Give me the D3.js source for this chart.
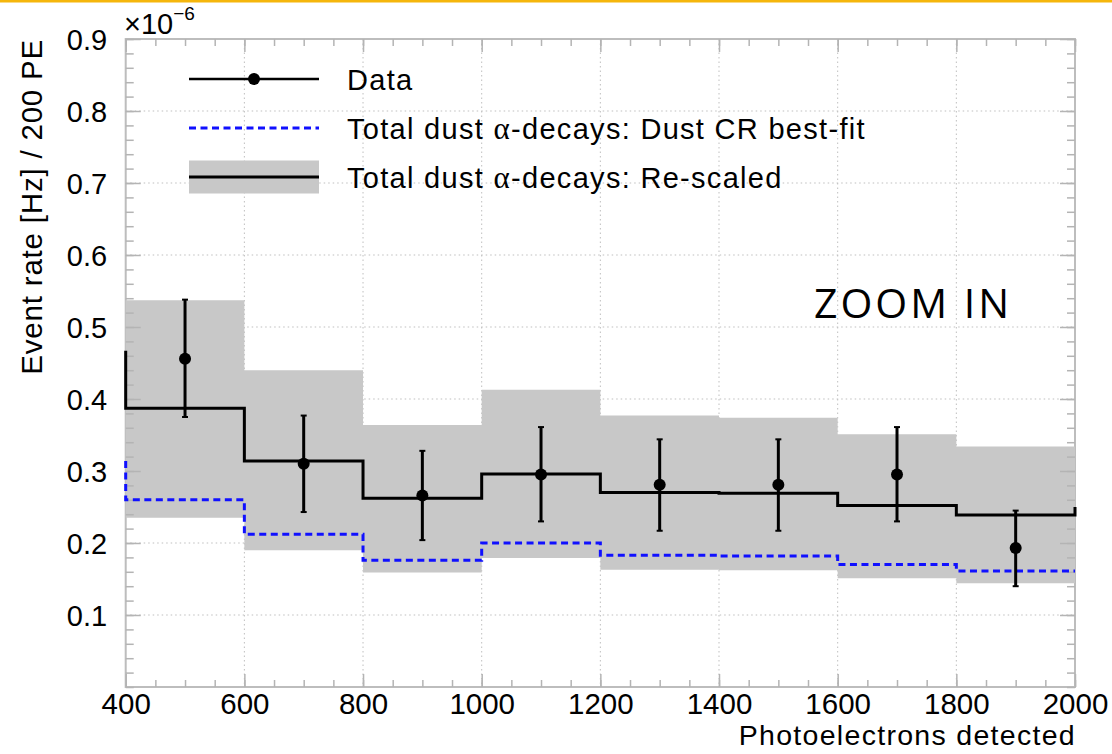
<!DOCTYPE html>
<html>
<head>
<meta charset="utf-8">
<script src="https://cdn.jsdelivr.net/npm/d3@7"></script>
<style>
  html, body { margin: 0; padding: 0; background: #ffffff; }
  svg { display: block; }
  text { font-family: "Liberation Sans", Arial, Helvetica, sans-serif; fill: #000; }
</style>
</head>
<body>
<svg id="chart" width="1112" height="754"></svg>
<script>
// ---------------- data (y in units of 1e-6) ----------------
const binEdges = [400, 600, 800, 1000, 1200, 1400, 1600, 1800, 2000];
const dataX = [500, 700, 900, 1100, 1300, 1500, 1700, 1900];
const dataY = [0.456, 0.310, 0.266, 0.295, 0.281, 0.281, 0.295, 0.193];
const dataErrUp = [0.538, 0.377, 0.328, 0.361, 0.344, 0.344, 0.361, 0.245];
const dataErrDown = [0.375, 0.243, 0.204, 0.230, 0.217, 0.217, 0.230, 0.140];
const rescaled = [0.387, 0.314, 0.262, 0.296, 0.270, 0.269, 0.252, 0.239];
const rescaledUp = [0.537, 0.440, 0.364, 0.413, 0.377, 0.374, 0.351, 0.334];
const rescaledDown = [0.235, 0.190, 0.159, 0.179, 0.163, 0.162, 0.151, 0.144];
const rescaledOutside = [0.467, 0.250];   // underflow / overflow edge values
const bestFit = [0.260, 0.212, 0.176, 0.200, 0.183, 0.182, 0.170, 0.161];
const bestFitOutside = [0.314, 0.161];
const xTickValues = [400, 600, 800, 1000, 1200, 1400, 1600, 1800, 2000];
const yTickValues = [0.1, 0.2, 0.3, 0.4, 0.5, 0.6, 0.7, 0.8, 0.9];
const xTickLabels = ["400", "600", "800", "1000", "1200", "1400", "1600", "1800", "2000"];
const yTickLabels = ["0.1", "0.2", "0.3", "0.4", "0.5", "0.6", "0.7", "0.8", "0.9"];
const legendLabels = ["Data", "Total dust \u03B1-decays: Dust CR best-fit", "Total dust \u03B1-decays: Re-scaled"];
const xTitle = "Photoelectrons detected";
const yTitle = "Event rate [Hz] / 200 PE";

// ---------------- layout ----------------
const L = 125.7, R = 1075, T = 39, B = 687;
const svg = d3.select("#chart");
const x = d3.scaleLinear().domain([400, 2000]).range([L, R]);
const y = d3.scaleLinear().domain([0, 0.9]).range([B, T]);

// top orange strip
svg.append("rect").attr("x", 0).attr("y", 0).attr("width", 1112).attr("height", 2.5).attr("fill", "#f5b60c");

// grid
const grid = svg.append("g");
xTickValues.slice(1, -1).forEach(v => {
  grid.append("line").attr("x1", x(v)).attr("x2", x(v)).attr("y1", T).attr("y2", B)
    .attr("stroke", "#bfbfbf").attr("stroke-width", 1).attr("stroke-dasharray", "1.5,3");
});
yTickValues.slice(0, -1).forEach(v => {
  grid.append("line").attr("x1", L).attr("x2", R).attr("y1", y(v)).attr("y2", y(v))
    .attr("stroke", "#bfbfbf").attr("stroke-width", 1).attr("stroke-dasharray", "1.5,3");
});

// frame
svg.append("rect").attr("x", L).attr("y", T).attr("width", R - L).attr("height", B - T)
  .attr("fill", "none").attr("stroke", "#bdbdbd").attr("stroke-width", 2);

// grey band (re-scaled uncertainty)
const bandPts = binEdges.map((e, i) => ({ x: e, lo: rescaledDown[Math.min(i, 7)], hi: rescaledUp[Math.min(i, 7)] }));
const area = d3.area().curve(d3.curveStepAfter)
  .x(d => x(d.x)).y0(d => y(d.lo)).y1(d => y(d.hi));
svg.append("path").datum(bandPts).attr("d", area).attr("fill", "#c8c8c8");

// axes (ticks inward)
function styleAxis(g) {
  g.select(".domain").remove();
  g.selectAll(".tick line").attr("stroke", "#b4b4b4").attr("stroke-width", 1.5);
}
const xMinor = d3.range(400, 2001, 50);
const yMinor = d3.range(0, 0.9001, 0.02);
svg.append("g").attr("transform", `translate(0,${B})`)
  .call(d3.axisBottom(x).tickValues(xMinor).tickSize(-7).tickFormat("")).call(styleAxis);
svg.append("g").attr("transform", `translate(0,${T})`)
  .call(d3.axisTop(x).tickValues(xMinor).tickSize(-7).tickFormat("")).call(styleAxis);
svg.append("g").attr("transform", `translate(${L},0)`)
  .call(d3.axisLeft(y).tickValues(yMinor).tickSize(-8).tickFormat("")).call(styleAxis);
svg.append("g").attr("transform", `translate(${R},0)`)
  .call(d3.axisRight(y).tickValues(yMinor).tickSize(-8).tickFormat("")).call(styleAxis);

const xAxis = svg.append("g").attr("transform", `translate(0,${B})`)
  .call(d3.axisBottom(x).tickValues(xTickValues).tickSize(-13).tickPadding(6)
    .tickFormat((d, i) => xTickLabels[i])).call(styleAxis);
xAxis.selectAll("text").style("font-size", "29.5px").attr("fill", "#000");
svg.append("g").attr("transform", `translate(0,${T})`)
  .call(d3.axisTop(x).tickValues(xTickValues).tickSize(-13).tickFormat("")).call(styleAxis);
const yAxis = svg.append("g").attr("transform", `translate(${L},0)`)
  .call(d3.axisLeft(y).tickValues(yTickValues).tickSize(-15).tickPadding(18.5)
    .tickFormat((d, i) => yTickLabels[i])).call(styleAxis);
yAxis.selectAll("text").style("font-size", "29px").attr("fill", "#000").attr("dy", "0.35em");
svg.append("g").attr("transform", `translate(${R},0)`)
  .call(d3.axisRight(y).tickValues(yTickValues).tickSize(-15).tickFormat("")).call(styleAxis);

// step lines
function stepPoints(vals, outside) {
  const pts = [{ x: binEdges[0], v: outside[0] }];
  binEdges.forEach((e, i) => pts.push({ x: e, v: vals[Math.min(i, vals.length - 1)] }));
  pts.push({ x: binEdges[binEdges.length - 1], v: outside[1] });
  return pts;
}
const stepLine = d3.line().curve(d3.curveStepAfter).x(d => x(d.x)).y(d => y(d.v));
svg.append("path").datum(stepPoints(bestFit, bestFitOutside)).attr("d", stepLine)
  .attr("fill", "none").attr("stroke", "#1010ff").attr("stroke-width", 3).attr("stroke-dasharray", "7,4.5");
svg.append("path").datum(stepPoints(rescaled, rescaledOutside)).attr("d", stepLine)
  .attr("fill", "none").attr("stroke", "#000").attr("stroke-width", 3);

// data points with error bars
const pts = svg.append("g");
dataX.forEach((vx, i) => {
  pts.append("line").attr("x1", x(vx)).attr("x2", x(vx)).attr("y1", y(dataErrUp[i])).attr("y2", y(dataErrDown[i]))
    .attr("stroke", "#000").attr("stroke-width", 3);
  [dataErrUp[i], dataErrDown[i]].forEach(v => {
    pts.append("line").attr("x1", x(vx) - 3).attr("x2", x(vx) + 3).attr("y1", y(v)).attr("y2", y(v))
      .attr("stroke", "#000").attr("stroke-width", 2);
  });
  pts.append("circle").attr("cx", x(vx)).attr("cy", y(dataY[i])).attr("r", 6).attr("fill", "#000");
});

// multiplier
const mult = svg.append("text").attr("x", 124).attr("y", 34);
mult.append("tspan").style("font-size", "29px").text("\u00D710");
mult.append("tspan").attr("dy", -14).style("font-size", "19px").text("\u22126");

// axis titles
svg.append("text").attr("x", R + 1).attr("y", 745).attr("text-anchor", "end")
  .style("font-size", "28.5px").style("letter-spacing", "1.3px").text(xTitle);
svg.append("text").attr("transform", `translate(42,${T}) rotate(-90)`).attr("text-anchor", "end")
  .style("font-size", "29.5px").style("letter-spacing", "0.8px").text(yTitle);

// legend
const lg = svg.append("g");
const lx0 = 189, lx1 = 319, lyy = [79, 128, 177];
lg.append("line").attr("x1", lx0).attr("x2", lx1).attr("y1", lyy[0]).attr("y2", lyy[0]).attr("stroke", "#000").attr("stroke-width", 2.5);
lg.append("circle").attr("cx", (lx0 + lx1) / 2).attr("cy", lyy[0]).attr("r", 6).attr("fill", "#000");
lg.append("line").attr("x1", lx0).attr("x2", lx1).attr("y1", lyy[1]).attr("y2", lyy[1])
  .attr("stroke", "#1010ff").attr("stroke-width", 3).attr("stroke-dasharray", "7,4.5");
lg.append("rect").attr("x", lx0).attr("y", lyy[2] - 16.5).attr("width", lx1 - lx0).attr("height", 33).attr("fill", "#c8c8c8");
lg.append("line").attr("x1", lx0).attr("x2", lx1).attr("y1", lyy[2]).attr("y2", lyy[2]).attr("stroke", "#000").attr("stroke-width", 3);
legendLabels.forEach((s, i) => {
  const t = lg.append("text").attr("x", 347).attr("y", lyy[i] + 10.5).style("font-size", "29px").style("letter-spacing", "1.3px");
  const parts = s.split("\u03B1");
  t.append("tspan").text(parts[0]);
  if (parts.length > 1) {
    t.append("tspan").style("font-family", "'Liberation Serif', 'DejaVu Serif', serif").style("font-size", "31px").text("\u03B1");
    t.append("tspan").text(parts[1]);
  }
});

// annotation
svg.append("text").attr("x", 814).attr("y", 318).style("font-family", "'Open Sans', 'Noto Sans', sans-serif")
  .style("font-size", "41px").style("letter-spacing", "3px").text("ZOOM IN");
</script>
</body>
</html>
